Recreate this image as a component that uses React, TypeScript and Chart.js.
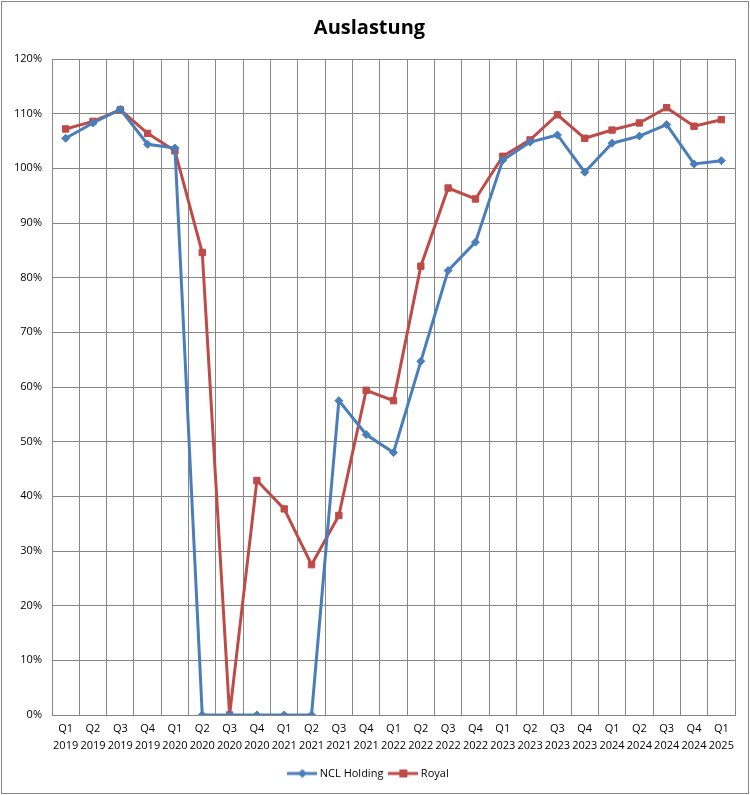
import { useEffect, useRef } from "react";
import { Chart, registerables } from "chart.js";
import type { ChartConfiguration, Plugin as ChartPlugin, Scale } from "chart.js";

Chart.register(...registerables);

const quarterLabels: string[][] = [
    ["Q1", "2019"], ["Q2", "2019"], ["Q3", "2019"], ["Q4", "2019"],
    ["Q1", "2020"], ["Q2", "2020"], ["Q3", "2020"], ["Q4", "2020"],
    ["Q1", "2021"], ["Q2", "2021"], ["Q3", "2021"], ["Q4", "2021"],
    ["Q1", "2022"], ["Q2", "2022"], ["Q3", "2022"], ["Q4", "2022"],
    ["Q1", "2023"], ["Q2", "2023"], ["Q3", "2023"], ["Q4", "2023"],
    ["Q1", "2024"], ["Q2", "2024"], ["Q3", "2024"], ["Q4", "2024"],
    ["Q1", "2025"],
];

// Auslastung in Prozent
const nclValues: number[] = [
    105.5, 108.3, 110.8, 104.4, 103.7, 0, 0, 0, 0, 0,
    57.5, 51.3, 48.0, 64.7, 81.3, 86.5, 101.5, 104.8, 106.1, 99.3,
    104.6, 105.9, 108.0, 100.8, 101.4,
];
const royalValues: number[] = [
    107.2, 108.6, 110.7, 106.4, 103.2, 84.6, 0, 42.9, 37.7, 27.5,
    36.5, 59.4, 57.5, 82.1, 96.4, 94.4, 102.2, 105.2, 109.8, 105.5,
    107.0, 108.3, 111.1, 107.7, 108.9,
];

const BLUE = "#4A7EBB";
const RED = "#BE4B48";
const GRID = "#868686";
const FONT = "'Open Sans', 'Noto Sans', sans-serif";

// legend symbol: line with marker in the middle
function legendSymbol(color: string, shape: "diamond" | "square"): HTMLCanvasElement {
    const c = document.createElement("canvas");
    c.width = 30;
    c.height = 10;
    const ctx = c.getContext("2d")!;
    ctx.strokeStyle = color;
    ctx.lineWidth = 3;
    ctx.beginPath();
    ctx.moveTo(0, 5);
    ctx.lineTo(30, 5);
    ctx.stroke();
    ctx.fillStyle = color;
    if (shape === "square") {
        ctx.fillRect(11, 1, 8, 8);
    } else {
        ctx.beginPath();
        ctx.moveTo(15, 0.5);
        ctx.lineTo(19.5, 5);
        ctx.lineTo(15, 9.5);
        ctx.lineTo(10.5, 5);
        ctx.closePath();
        ctx.fill();
    }
    return c;
}

const framePlugin: ChartPlugin = {
    id: "frame",
    beforeDraw: (chart: Chart) => {
        const ctx = chart.ctx;
        ctx.save();
        ctx.fillStyle = "#ffffff";
        ctx.fillRect(0, 0, chart.width, chart.height);
        ctx.strokeStyle = GRID;
        ctx.lineWidth = 1;
        ctx.strokeRect(1.5, 1.5, chart.width - 3, chart.height - 3);
        ctx.restore();
    },
};

function getConfig(): ChartConfiguration {
    return {
        type: "line",
        data: {
            labels: quarterLabels,
            datasets: [
                {
                    label: "NCL Holding",
                    data: nclValues,
                    borderColor: BLUE,
                    backgroundColor: BLUE,
                    borderWidth: 3,
                    pointStyle: "rectRot",
                    pointRadius: 4,
                    pointBorderWidth: 1,
                    tension: 0,
                },
                {
                    label: "Royal",
                    data: royalValues,
                    borderColor: RED,
                    backgroundColor: RED,
                    borderWidth: 3,
                    pointStyle: "rect",
                    pointRadius: 4.5,
                    pointBorderWidth: 1,
                    tension: 0,
                },
            ],
        },
        options: {
            responsive: false,
            animation: false,
            layout: { padding: { left: 4, right: 15, top: 0, bottom: 6 } },
            scales: {
                x: {
                    type: "category",
                    offset: true,
                    grid: {
                        offset: true,
                        color: GRID,
                        lineWidth: 1,
                        drawTicks: false,
                    },
                    border: { color: GRID },
                    ticks: {
                        color: "#000000",
                        font: { family: FONT, size: 11, lineHeight: 1.5 },
                        maxRotation: 0,
                        autoSkip: false,
                        padding: 6,
                    },
                },
                y: {
                    min: 0,
                    max: 120,
                    afterFit: function (scale: Scale) {
                        scale.width = 48;
                    },
                    grid: { color: GRID, lineWidth: 1, drawTicks: false },
                    border: { color: GRID },
                    ticks: {
                        stepSize: 10,
                        color: "#000000",
                        font: { family: FONT, size: 11 },
                        padding: 10,
                        callback: (v) => `${v}%`,
                    },
                },
            },
            plugins: {
                title: {
                    display: true,
                    text: "Auslastung",
                    color: "#000000",
                    font: { family: FONT, size: 20, weight: "bold" },
                    padding: { top: 16, bottom: 19 },
                },
                legend: {
                    position: "bottom",
                    labels: {
                        usePointStyle: true,
                        pointStyleWidth: 24,
                        color: "#000000",
                        font: { family: FONT, size: 11 },
                        padding: 8,
                        generateLabels: () => [
                            {
                                text: "NCL Holding",
                                pointStyle: legendSymbol(BLUE, "diamond"),
                                fillStyle: BLUE,
                                strokeStyle: BLUE,
                                lineWidth: 0,
                                datasetIndex: 0,
                                hidden: false,
                            },
                            {
                                text: "Royal",
                                pointStyle: legendSymbol(RED, "square"),
                                fillStyle: RED,
                                strokeStyle: RED,
                                lineWidth: 0,
                                datasetIndex: 1,
                                hidden: false,
                            },
                        ],
                    },
                },
                tooltip: { enabled: false },
            },
        },
        plugins: [framePlugin],
    };
}

export default function App() {
    const canvasRef = useRef<HTMLCanvasElement>(null);

    useEffect(() => {
        if (!canvasRef.current) {
            return;
        }
        document.body.style.margin = "0";
        const chart = new Chart(canvasRef.current, getConfig());
        return () => {
            chart.destroy();
        };
    }, []);

    return (
        <div style={{ width: 750, height: 795 }}>
            <canvas ref={canvasRef} width={750} height={795} style={{ width: 750, height: 795 }} />
        </div>
    );
}
